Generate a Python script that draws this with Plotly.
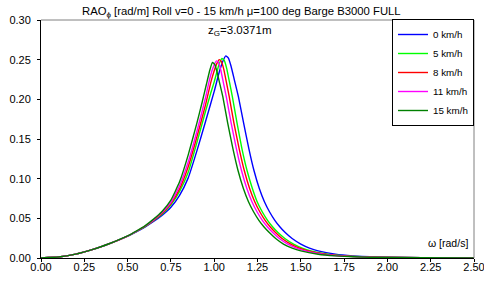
import plotly.graph_objects as go

# ---- data ----
series_names = ["0 km/h", "5 km/h", "8 km/h", "11 km/h", "15 km/h"]
series_colors = ["#0000FF", "#00FF00", "#FF0000", "#FF00FF", "#008000"]

om_0 = [0, 0.1, 0.2, 0.3, 0.4, 0.5, 0.55, 0.6, 0.65, 0.7, 0.75, 0.8, 0.85, 0.9, 0.95, 1.0,
        1.03, 1.05, 1.067, 1.082, 1.097, 1.117, 1.14, 1.17, 1.20, 1.23, 1.26, 1.29, 1.32, 1.35,
        1.38, 1.41, 1.45, 1.50, 1.55, 1.60, 1.70, 1.80, 1.90, 2.0, 2.2, 2.5]
rao_0 = [0, 0.0012, 0.0048, 0.0108, 0.0185, 0.0275, 0.033, 0.039, 0.046, 0.054, 0.064, 0.079,
         0.101, 0.135, 0.172, 0.210, 0.235, 0.248, 0.2548, 0.252, 0.242, 0.224, 0.203, 0.170,
         0.138, 0.110, 0.088, 0.071, 0.058, 0.0475, 0.039, 0.032, 0.0245, 0.0175, 0.0125,
         0.009, 0.0048, 0.0027, 0.0016, 0.001, 0.0004, 0.0001]

om_5 = [0, 0.1, 0.2, 0.3, 0.4, 0.5, 0.55, 0.6, 0.65, 0.7, 0.75, 0.8, 0.85, 0.9, 0.95, 0.98,
        1.0, 1.025, 1.035, 1.045, 1.058, 1.072, 1.088, 1.105, 1.132, 1.16, 1.19, 1.22, 1.248,
        1.278, 1.308, 1.338, 1.368, 1.408, 1.458, 1.508, 1.558, 1.658, 1.758, 1.858, 1.958,
        2.2, 2.5]
rao_5 = [0, 0.0012, 0.0048, 0.0108, 0.0185, 0.0276, 0.0332, 0.0394, 0.047, 0.0555, 0.067,
         0.084, 0.108, 0.1455, 0.185, 0.208, 0.222, 0.242, 0.248, 0.2515, 0.249, 0.239, 0.222,
         0.203, 0.170, 0.138, 0.110, 0.088, 0.071, 0.058, 0.0475, 0.039, 0.032, 0.0245, 0.0175,
         0.0125, 0.009, 0.0048, 0.0027, 0.0016, 0.001, 0.0004, 0.0001]

om_8 = [0, 0.1, 0.2, 0.3, 0.4, 0.5, 0.55, 0.6, 0.65, 0.7, 0.75, 0.8, 0.85, 0.9, 0.95, 0.98,
        1.0, 1.015, 1.029, 1.042, 1.055, 1.07, 1.087, 1.114, 1.144, 1.174, 1.204, 1.234, 1.264,
        1.294, 1.324, 1.354, 1.392, 1.442, 1.492, 1.542, 1.642, 1.742, 1.842, 1.942, 2.2, 2.5]
rao_8 = [0, 0.0012, 0.0048, 0.0108, 0.0185, 0.0277, 0.0334, 0.0398, 0.0475, 0.0565, 0.0685,
         0.087, 0.115, 0.1525, 0.193, 0.221, 0.236, 0.245, 0.250, 0.2475, 0.238, 0.222, 0.203,
         0.170, 0.138, 0.110, 0.088, 0.071, 0.058, 0.0475, 0.039, 0.032, 0.0245, 0.0175,
         0.0125, 0.009, 0.0048, 0.0027, 0.0016, 0.001, 0.0004, 0.0001]

om_11 = [0, 0.1, 0.2, 0.3, 0.4, 0.5, 0.55, 0.6, 0.65, 0.7, 0.75, 0.8, 0.85, 0.9, 0.95, 0.97,
         0.99, 1.013, 1.026, 1.039, 1.053, 1.07, 1.098, 1.128, 1.158, 1.188, 1.218, 1.248,
         1.278, 1.308, 1.338, 1.376, 1.425, 1.475, 1.525, 1.625, 1.725, 1.825, 1.925, 2.2, 2.5]
rao_11 = [0, 0.0012, 0.0048, 0.0108, 0.0186, 0.0277, 0.0336, 0.040, 0.048, 0.0575, 0.070,
          0.091, 0.121, 0.1595, 0.202, 0.222, 0.238, 0.2485, 0.246, 0.236, 0.221, 0.203, 0.170,
          0.138, 0.110, 0.088, 0.071, 0.058, 0.0475, 0.039, 0.032, 0.0245, 0.0175, 0.0125,
          0.009, 0.0048, 0.0027, 0.0016, 0.001, 0.0004, 0.0001]

om_15 = [0, 0.1, 0.2, 0.3, 0.4, 0.5, 0.55, 0.6, 0.65, 0.7, 0.75, 0.8, 0.85, 0.9, 0.93, 0.955,
         0.975, 0.99, 1.003, 1.017, 1.033, 1.05, 1.078, 1.108, 1.138, 1.168, 1.198, 1.228,
         1.258, 1.288, 1.318, 1.355, 1.40, 1.45, 1.50, 1.60, 1.70, 1.80, 1.90, 2.2, 2.5]
rao_15 = [0, 0.0012, 0.0048, 0.0108, 0.0186, 0.0278, 0.0338, 0.0405, 0.049, 0.059, 0.073,
          0.096, 0.130, 0.170, 0.196, 0.219, 0.237, 0.2465, 0.244, 0.234, 0.219, 0.203, 0.170,
          0.138, 0.110, 0.088, 0.071, 0.058, 0.0475, 0.039, 0.032, 0.0245, 0.0175, 0.0125,
          0.009, 0.0048, 0.0027, 0.0016, 0.001, 0.0004, 0.0001]

x_ticks = [0, 0.25, 0.5, 0.75, 1.0, 1.25, 1.5, 1.75, 2.0, 2.25, 2.5]
y_ticks = [0, 0.05, 0.10, 0.15, 0.20, 0.25, 0.30]

oms = [om_0, om_5, om_8, om_11, om_15]
raos = [rao_0, rao_5, rao_8, rao_11, rao_15]

FONT = "Liberation Sans, Arial, sans-serif"
L, R, T, B = 41, 10, 20, 24
PW, PH = 484 - L - R, 282 - T - B

fig = go.Figure()
for name, col, om, rao in zip(series_names, series_colors, oms, raos):
    fig.add_trace(go.Scatter(
        x=om, y=rao, name=name, mode="lines",
        line=dict(color=col, width=1.4, shape="spline", smoothing=0.4),
    ))

axis_common = dict(showgrid=False, zeroline=False, automargin=False)
fig.update_layout(
    width=484, height=282, autosize=False,
    margin=dict(l=L, r=R, t=T, b=B),
    paper_bgcolor="white", plot_bgcolor="white",
    font=dict(family=FONT, size=11, color="black"),
    showlegend=True,
    legend=dict(
        x=1.0, xanchor="right",
        y=(282 - B - 19) / PH, yanchor="top",
        bgcolor="white", bordercolor="black", borderwidth=1,
        font=dict(family=FONT, size=9.8, color="black"),
        itemwidth=30,
    ),
    xaxis=dict(range=[0, 2.5], tickvals=x_ticks, tickformat=".2f", ticks="outside",
               ticklen=3, tickcolor="black", showline=True, linecolor="black", linewidth=1,
               tickfont=dict(size=11), ticklabeloverflow="allow", ticklabelstandoff=-4,
               **axis_common),
    yaxis=dict(range=[0, 0.3], tickvals=y_ticks, tickformat=".2f", ticks="outside",
               ticklen=3, tickcolor="black", showline=True, linecolor="black", linewidth=1,
               tickfont=dict(size=11), ticklabelstandoff=4, **axis_common),
    xaxis2=dict(range=[0, 2.5], tickvals=x_ticks, overlaying="x", anchor="y", side="bottom",
                ticks="inside", ticklen=3, tickcolor="black", showticklabels=False,
                showline=False, **axis_common),
    yaxis2=dict(range=[0, 0.3], tickvals=y_ticks, overlaying="y", anchor="x", side="left",
                ticks="inside", ticklen=3, tickcolor="black", showticklabels=False,
                showline=False, **axis_common),
    shapes=[
        dict(type="line", xref="paper", yref="paper", x0=0, x1=1, y0=1, y1=1,
             line=dict(color="#808080", width=1)),
        dict(type="line", xref="paper", yref="paper", x0=1, x1=1, y0=0, y1=1,
             line=dict(color="#808080", width=1)),
    ],
    annotations=[
        dict(text="RAO<sub>ϕ</sub> [rad/m] Roll v=0 - 15 km/h μ=100 deg Barge B3000 FULL",
             xref="paper", yref="paper", x=(241 - L) / PW, y=1.0, yshift=8,
             xanchor="center", yanchor="middle", showarrow=False,
             font=dict(family=FONT, size=11.3)),
        dict(text="z<sub>G</sub>=3.0371m",
             xref="paper", yref="paper", x=(240 - L) / PW, y=(282 - B - 31) / PH,
             xanchor="center", yanchor="middle", showarrow=False,
             font=dict(family=FONT, size=11.5)),
        dict(text="ω [rad/s]",
             xref="paper", yref="paper", x=(470 - L) / PW, y=(282 - B - 243) / PH,
             xanchor="right", yanchor="middle", showarrow=False,
             font=dict(family=FONT, size=10.5)),
    ],
)

fig.write_html(
    "out.html",
    config={"displayModeBar": False, "responsive": False},
    post_script="document.body.style.margin='0';document.body.style.overflow='hidden';",
)
